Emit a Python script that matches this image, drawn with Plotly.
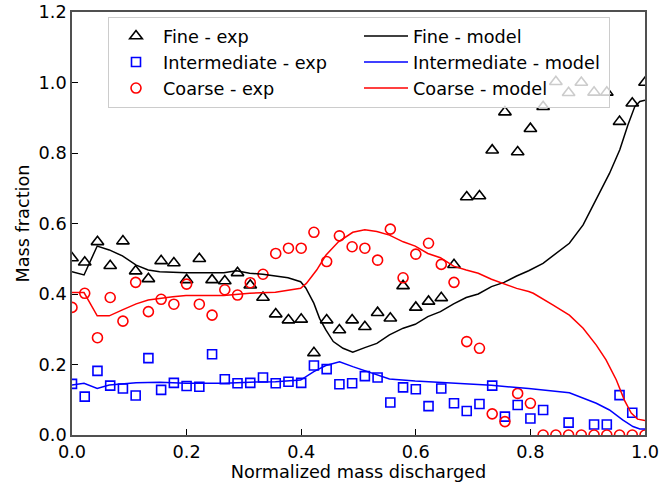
import plotly.graph_objects as go

# Experimental data: x grid (normalized mass discharged), 46 samples
n_pts = 46
x_exp = [i / 45 for i in range(n_pts)]

fine_exp = [0.502, 0.49, 0.548, 0.48, 0.55, 0.465, 0.443, 0.494, 0.488, 0.44,
            0.5, 0.44, 0.437, 0.46, 0.425, 0.39, 0.343, 0.326, 0.328, 0.233,
            0.326, 0.298, 0.326, 0.307, 0.347, 0.331, 0.423, 0.362, 0.379, 0.389,
            0.483, 0.675, 0.678, 0.808, 0.916, 0.803, 0.869, 0.931, 1.002, 0.971,
            1.0, 0.972, 0.972, 0.889, 0.941, 1.0]

inter_exp = [0.145, 0.109, 0.182, 0.14, 0.132, 0.112, 0.218, 0.128, 0.148, 0.139,
             0.137, 0.229, 0.158, 0.147, 0.148, 0.163, 0.147, 0.151, 0.148, 0.197,
             0.187, 0.144, 0.147, 0.167, 0.163, 0.092, 0.135, 0.13, 0.082, 0.132,
             0.09, 0.068, 0.088, 0.14, 0.052, 0.085, 0.047, 0.071, None, 0.035,
             None, 0.03, 0.03, 0.113, 0.063, None]

coarse_exp = [0.362, 0.402, 0.276, 0.39, 0.323, 0.433, 0.35, 0.385, 0.371, 0.428,
              0.371, 0.34, 0.412, 0.397, 0.432, 0.456, 0.515, 0.53, 0.53, 0.575,
              0.492, 0.565, 0.534, 0.53, 0.496, 0.584, 0.446, 0.513, 0.544, 0.484,
              0.433, 0.265, 0.246, 0.06, 0.038, 0.118, 0.09, 0.0, 0.0, 0.0,
              0.0, 0.0, 0.0, 0.0, 0.0, 0.0]

# Model curves
fine_model_x = [0.0, 0.021, 0.044, 0.065, 0.088, 0.112, 0.133, 0.153, 0.199, 0.265,
                0.287, 0.31, 0.333, 0.355, 0.377, 0.399, 0.408, 0.422, 0.432, 0.443,
                0.456, 0.473, 0.49, 0.511, 0.532, 0.554, 0.578, 0.599, 0.621, 0.643,
                0.666, 0.688, 0.709, 0.732, 0.754, 0.776, 0.797, 0.822, 0.868, 0.892,
                0.915, 0.938, 0.956, 0.97, 0.982, 0.991, 1.0]
fine_model_y = [0.463, 0.454, 0.536, 0.525, 0.508, 0.482, 0.468, 0.463, 0.46, 0.46,
                0.466, 0.459, 0.456, 0.451, 0.446, 0.435, 0.417, 0.374, 0.331, 0.298,
                0.265, 0.246, 0.235, 0.248, 0.26, 0.284, 0.303, 0.314, 0.336, 0.35,
                0.372, 0.39, 0.4, 0.421, 0.433, 0.451, 0.466, 0.487, 0.544, 0.596,
                0.667, 0.742, 0.809, 0.879, 0.931, 0.946, 0.95]

inter_model_x = [0.0, 0.021, 0.044, 0.065, 0.112, 0.153, 0.199, 0.265, 0.31, 0.355,
                 0.399, 0.422, 0.443, 0.467, 0.49, 0.532, 0.554, 0.599, 0.666, 0.732,
                 0.797, 0.868, 0.915, 0.938, 0.961, 0.979, 0.991, 1.0]
inter_model_y = [0.142, 0.147, 0.132, 0.142, 0.148, 0.15, 0.147, 0.147, 0.15, 0.151,
                 0.156, 0.18, 0.197, 0.208, 0.194, 0.17, 0.159, 0.153, 0.147, 0.141,
                 0.132, 0.12, 0.09, 0.071, 0.043, 0.024, 0.017, 0.017]

coarse_model_x = [0.0, 0.021, 0.044, 0.065, 0.088, 0.112, 0.133, 0.153, 0.176, 0.199,
                  0.265, 0.31, 0.355, 0.399, 0.409, 0.427, 0.443, 0.465, 0.49, 0.511,
                  0.532, 0.554, 0.578, 0.599, 0.621, 0.643, 0.666, 0.688, 0.709, 0.732,
                  0.754, 0.776, 0.797, 0.805, 0.839, 0.868, 0.892, 0.915, 0.932, 0.95,
                  0.964, 0.976, 0.987, 1.0]
coarse_model_y = [0.404, 0.404, 0.338, 0.338, 0.355, 0.372, 0.383, 0.388, 0.392, 0.396,
                  0.396, 0.402, 0.405, 0.416, 0.43, 0.468, 0.51, 0.548, 0.575, 0.582,
                  0.577, 0.567, 0.548, 0.536, 0.515, 0.503, 0.479, 0.468, 0.459, 0.442,
                  0.43, 0.416, 0.407, 0.402, 0.369, 0.34, 0.303, 0.255, 0.213, 0.156,
                  0.099, 0.062, 0.045, 0.041]

x_ticks = [0.0, 0.2, 0.4, 0.6, 0.8, 1.0]
y_ticks = [0.0, 0.2, 0.4, 0.6, 0.8, 1.0, 1.2]

FONT = "DejaVu Sans, sans-serif"
FS = 17.7

fig = go.Figure()
fig.add_trace(go.Scatter(x=x_exp, y=fine_exp, mode="markers", name="Fine - exp",
                         legendrank=1,
                         marker=dict(symbol="triangle-up-open", size=11, color="black",
                                     line=dict(width=1.6, color="black"))))
fig.add_trace(go.Scatter(x=x_exp, y=inter_exp, mode="markers", name="Intermediate - exp",
                         legendrank=3,
                         marker=dict(symbol="square-open", size=9, color="blue",
                                     line=dict(width=1.6, color="blue"))))
fig.add_trace(go.Scatter(x=x_exp, y=coarse_exp, mode="markers", name="Coarse - exp",
                         legendrank=5,
                         marker=dict(symbol="circle-open", size=10, color="red",
                                     line=dict(width=1.6, color="red"))))
fig.add_trace(go.Scatter(x=fine_model_x, y=fine_model_y, mode="lines", name="Fine - model",
                         legendrank=2, line=dict(color="black", width=1.5)))
fig.add_trace(go.Scatter(x=inter_model_x, y=inter_model_y, mode="lines",
                         name="Intermediate - model", legendrank=4,
                         line=dict(color="blue", width=1.5)))
fig.add_trace(go.Scatter(x=coarse_model_x, y=coarse_model_y, mode="lines",
                         name="Coarse - model", legendrank=6,
                         line=dict(color="red", width=1.5)))

axis_common = dict(showgrid=False, zeroline=False, showline=True, mirror=True,
                   linecolor="#505050", linewidth=1.5, ticks="inside", ticklen=6,
                   tickwidth=1, tickcolor="black", automargin=False,
                   ticklabeloverflow="allow",
                   tickfont=dict(family=FONT, size=FS, color="black"),
                   tickformat=".1f")

fig.update_layout(
    width=659, height=486,
    margin=dict(l=72, r=14, t=12, b=51, autoexpand=False),
    plot_bgcolor="white", paper_bgcolor="white",
    font=dict(family=FONT, size=FS, color="black"),
    xaxis=dict(range=[0, 1], tickvals=x_ticks,
               title=dict(text="Normalized mass discharged", standoff=2,
                          font=dict(family=FONT, size=FS)),
               **axis_common),
    yaxis=dict(range=[0, 1.2], tickvals=y_ticks,
               title=dict(text="Mass fraction", standoff=4,
                          font=dict(family=FONT, size=FS)),
               **axis_common),
    legend=dict(orientation="h", x=(108 - 72) / 573, y=(435 - 17) / 423,
                xanchor="left", yanchor="top",
                bgcolor="rgba(255,255,255,0.8)", bordercolor="#cccccc", borderwidth=1,
                entrywidth=191, entrywidthmode="pixels", traceorder="normal",
                font=dict(family=FONT, size=FS, color="black"), itemwidth=44),
    showlegend=True,
)

fig.write_html("out.html")
